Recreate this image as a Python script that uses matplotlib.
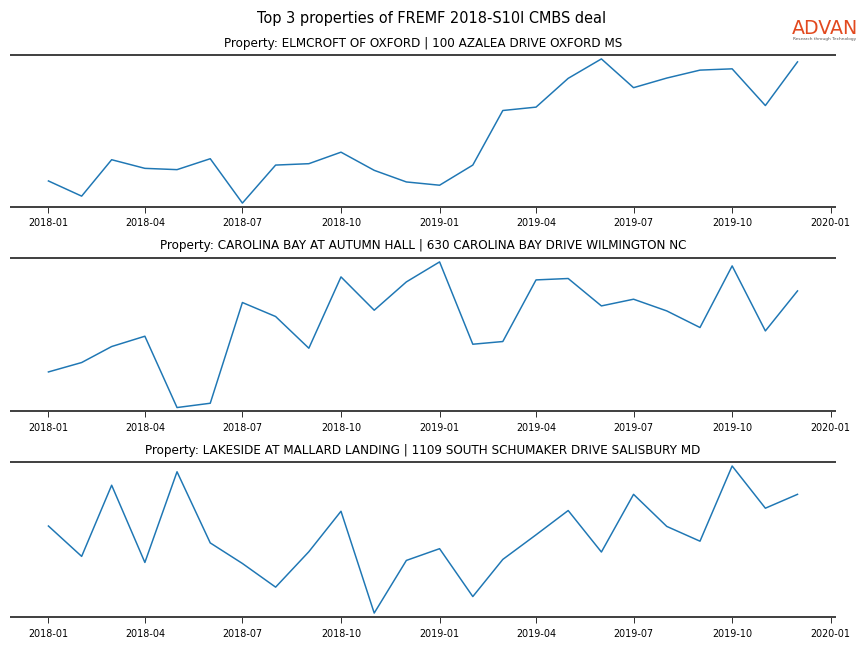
import matplotlib
matplotlib.use("Agg")
import matplotlib.pyplot as plt
import matplotlib.dates as mdates
import pandas as pd

# monthly visits, Jan 2018 - Dec 2019 (relative scale)
months = pd.date_range("2018-01-01", "2019-12-01", freq="MS")

titles = [
    "Property: ELMCROFT OF OXFORD | 100 AZALEA DRIVE OXFORD MS",
    "Property: CAROLINA BAY AT AUTUMN HALL | 630 CAROLINA BAY DRIVE WILMINGTON NC",
    "Property: LAKESIDE AT MALLARD LANDING | 1109 SOUTH SCHUMAKER DRIVE SALISBURY MD",
]

elmcroft = [25.3, 10, 46.7, 38, 36.7, 47.7, 3, 41.3, 42.7, 54.3, 36, 24.3,
            21, 41.3, 96.3, 99.7, 128.7, 148.3, 119.3, 129, 137, 138.3, 101.3, 145.3]
carolina = [39.3, 48.7, 64.7, 75, 3.7, 8, 108.7, 94.7, 63, 134.3, 101, 129.3,
            149.3, 67, 69.7, 131.3, 132.7, 105.3, 112, 100.3, 83.7, 145.3, 80.3, 120.3]
lakeside = [90.7, 60.7, 131, 54.7, 144.3, 74, 53.7, 30.3, 65.3, 105.3, 4.7, 56.7,
            68.3, 21, 57.7, 82, 106, 65, 122, 90.3, 75.7, 150, 108.3, 122]

series = [elmcroft, carolina, lakeside]

fig = plt.figure(figsize=(12, 9), dpi=72)
fig.suptitle("Top 3 properties of FREMF 2018-S10I CMBS deal", fontsize=14.5,
             y=0.9707, va="center")

boxes = [(0.0127, 0.6806, 0.9537, 0.2345),
         (0.0127, 0.3650, 0.9537, 0.2369),
         (0.0127, 0.0478, 0.9537, 0.2392)]

for box, title, vals in zip(boxes, titles, series):
    ax = fig.add_axes(box)
    ax.plot(months, vals, color="#1f77b4", lw=1.5)
    ax.set_title(title, fontsize=12, pad=8.5)
    ax.margins(y=0.027)
    ax.xaxis.set_major_locator(mdates.MonthLocator(bymonth=[1, 4, 7, 10]))
    ax.xaxis.set_major_formatter(mdates.DateFormatter("%Y-%m"))
    ax.tick_params(axis="x", labelsize=9.6, length=6, width=0.8, pad=5.5)
    ax.set_yticks([])
    for s in ["left", "right"]:
        ax.spines[s].set_visible(False)
    for s in ["top", "bottom"]:
        ax.spines[s].set_color("#444444")
        ax.spines[s].set_linewidth(2)

# logo
fig.text(0.9545, 0.956, "ADVAN", color="#e2491f", fontsize=19, weight="medium",
         ha="center", va="center")
fig.text(0.9545, 0.9395, "Research through Technology", color="#555555", fontsize=4.2,
         ha="center", va="center")

fig.savefig("out.png", dpi=72)
